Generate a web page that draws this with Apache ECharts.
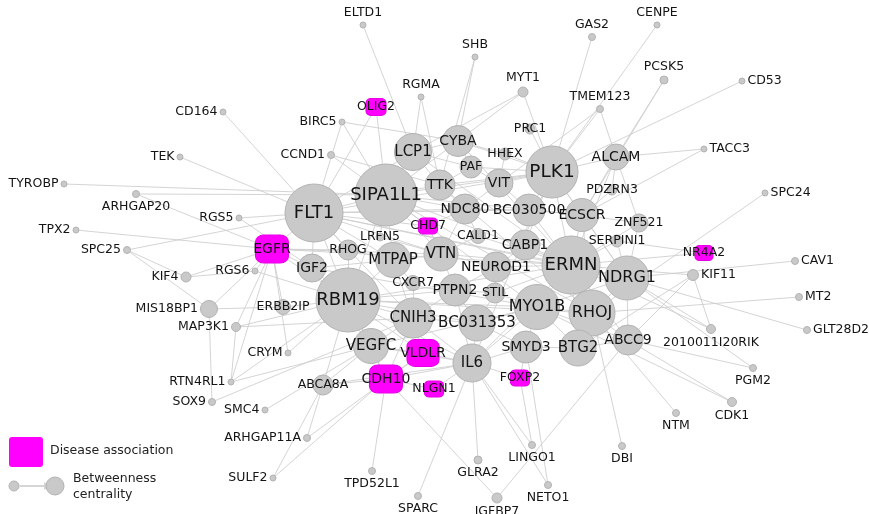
<!DOCTYPE html>
<html lang="en">
  <head>
    <meta charset="UTF-8" />
    <title>Gene network</title>
    <script src="https://cdn.jsdelivr.net/npm/echarts@6/dist/echarts.min.js"></script>
    <style>
      html, body { margin: 0; padding: 0; background: #fff; }
      #net { width: 869px; height: 514px; }
    </style>
  </head>
  <body>
    <div id="net"></div>
    <script>
      // node: [gene, x, y, betweenness (drawn as diameter)]
      const hubNodes = [
        ["FLT1", 314, 213, 58], ["SIPA1L1", 386, 195, 62], ["RBM19", 348, 300, 64],
        ["PLK1", 552, 172, 52], ["ERMN", 571, 265, 58], ["LCP1", 413, 152, 37],
        ["CYBA", 458, 141, 31], ["PAF", 471, 167, 22], ["TTK", 440, 185, 30],
        ["VIT", 499, 183, 28], ["NDC80", 465, 209, 30], ["BC030500", 529, 210, 32],
        ["ECSCR", 582, 215, 33], ["ALCAM", 616, 157, 26], ["PDZRN3", 612, 190, 10],
        ["ZNF521", 639, 223, 18], ["SERPINI1", 617, 241, 12], ["HHEX", 505, 154, 12],
        ["PRC1", 530, 129, 10], ["CABP1", 525, 245, 30], ["CALD1", 478, 236, 15],
        ["CHD7", 428, 226, 16], ["LRFN5", 380, 237, 8], ["RHOG", 348, 250, 20],
        ["MTPAP", 393, 260, 35], ["VTN", 441, 254, 34], ["IGF2", 312, 268, 28],
        ["EGFR", 272, 249, 28], ["NEUROD1", 496, 267, 30], ["PTPN2", 455, 290, 32],
        ["STIL", 495, 293, 20], ["CXCR7", 413, 283, 15], ["MYO1B", 537, 307, 45],
        ["NDRG1", 627, 278, 44], ["RHOJ", 592, 313, 46], ["ABCC9", 628, 340, 30],
        ["BTG2", 578, 348, 36], ["SMYD3", 526, 347, 32], ["BC031353", 477, 323, 36],
        ["CNIH3", 413, 318, 40], ["VEGFC", 371, 346, 35], ["IL6", 472, 363, 38],
        ["VLDLR", 423, 353, 27], ["CDH10", 386, 379, 28], ["NLGN1", 434, 389, 16],
        ["FOXP2", 520, 378, 16], ["ABCA8A", 323, 385, 20], ["ERBB2IP", 283, 307, 15],
        ["OLIG2", 376, 107, 17], ["NR4A2", 704, 253, 15]
      ];
      const outerNodes = [
        ["CD164", 223, 112, 6], ["TEK", 180, 157, 6], ["TYROBP", 64, 184, 6],
        ["ARHGAP20", 136, 194, 7], ["RGS5", 239, 218, 6], ["TPX2", 76, 230, 6],
        ["SPC25", 127, 250, 7], ["KIF4", 186, 277, 10], ["RGS6", 255, 271, 6],
        ["MIS18BP1", 209, 309, 17], ["MAP3K1", 236, 327, 9], ["CRYM", 288, 353, 6],
        ["RTN4RL1", 231, 382, 6], ["SOX9", 212, 402, 7], ["SMC4", 265, 410, 6],
        ["ARHGAP11A", 307, 438, 7], ["SULF2", 273, 478, 6], ["TPD52L1", 372, 471, 7],
        ["SPARC", 418, 496, 7], ["GLRA2", 478, 460, 8], ["IGFBP7", 497, 498, 10],
        ["LINGO1", 532, 445, 7], ["NETO1", 548, 485, 7], ["DBI", 622, 446, 7],
        ["NTM", 676, 413, 7], ["CDK1", 732, 402, 9], ["PGM2", 753, 368, 7],
        ["2010011I20RIK", 711, 329, 9], ["GLT28D2", 807, 330, 7], ["MT2", 799, 297, 7],
        ["CAV1", 795, 261, 7], ["KIF11", 693, 275, 11], ["SPC24", 765, 193, 6],
        ["TACC3", 704, 149, 6], ["CD53", 742, 81, 6], ["PCSK5", 664, 80, 8],
        ["CENPE", 657, 25, 6], ["GAS2", 592, 37, 7], ["TMEM123", 600, 109, 7],
        ["MYT1", 523, 92, 10], ["SHB", 475, 57, 6], ["RGMA", 421, 97, 6],
        ["ELTD1", 363, 25, 6], ["BIRC5", 342, 122, 6], ["CCND1", 331, 155, 7]
      ];
      const diseaseGenes = ["EGFR", "CDH10", "VLDLR", "OLIG2", "CHD7", "NLGN1", "FOXP2", "NR4A2"];

      const outerEdges = [
        ["CD164", "FLT1"], ["TEK", "FLT1"], ["TYROBP", "SIPA1L1"], ["ARHGAP20", "SIPA1L1"],
        ["ARHGAP20", "EGFR"], ["RGS5", "FLT1"], ["RGS5", "IGF2"], ["TPX2", "EGFR"],
        ["SPC25", "FLT1"], ["SPC25", "MIS18BP1"], ["SPC25", "KIF4"], ["KIF4", "RGS6"],
        ["KIF4", "EGFR"], ["RGS6", "EGFR"], ["RGS6", "RBM19"], ["MIS18BP1", "ERBB2IP"],
        ["MIS18BP1", "EGFR"], ["SOX9", "MIS18BP1"], ["MAP3K1", "RTN4RL1"], ["MAP3K1", "EGFR"],
        ["MAP3K1", "RBM19"], ["MAP3K1", "CNIH3"], ["CRYM", "RBM19"], ["CRYM", "EGFR"],
        ["RTN4RL1", "EGFR"], ["RTN4RL1", "VEGFC"], ["RTN4RL1", "RBM19"], ["SOX9", "CNIH3"],
        ["SMC4", "VEGFC"], ["ARHGAP11A", "ABCA8A"], ["ARHGAP11A", "VLDLR"], ["SULF2", "ABCA8A"],
        ["SULF2", "CDH10"], ["TPD52L1", "CDH10"], ["SPARC", "IL6"], ["GLRA2", "IL6"],
        ["IGFBP7", "CDH10"], ["IGFBP7", "ABCC9"], ["LINGO1", "IL6"], ["LINGO1", "FOXP2"],
        ["NETO1", "IL6"], ["NETO1", "SMYD3"], ["DBI", "RHOJ"], ["NTM", "RHOJ"],
        ["CDK1", "ABCC9"], ["CDK1", "MYO1B"], ["PGM2", "ABCC9"], ["PGM2", "NDRG1"],
        ["2010011I20RIK", "KIF11"], ["2010011I20RIK", "NDRG1"], ["2010011I20RIK", "ERMN"],
        ["GLT28D2", "NDRG1"], ["MT2", "RHOJ"], ["CAV1", "NDRG1"], ["KIF11", "ERMN"],
        ["KIF11", "ABCC9"], ["KIF11", "BTG2"], ["NR4A2", "ERMN"], ["NR4A2", "SERPINI1"], ["SPC24", "RHOJ"],
        ["TACC3", "ALCAM"], ["TACC3", "ECSCR"], ["CD53", "PLK1"], ["PCSK5", "ALCAM"],
        ["PCSK5", "ECSCR"], ["CENPE", "PLK1"], ["GAS2", "PLK1"], ["TMEM123", "PLK1"],
        ["TMEM123", "ALCAM"], ["TMEM123", "VIT"], ["MYT1", "PLK1"], ["MYT1", "CYBA"],
        ["MYT1", "LCP1"], ["SHB", "CYBA"], ["SHB", "TTK"], ["ELTD1", "LCP1"],
        ["RGMA", "LCP1"], ["RGMA", "TTK"], ["OLIG2", "FLT1"], ["OLIG2", "SIPA1L1"],
        ["BIRC5", "FLT1"], ["BIRC5", "SIPA1L1"], ["BIRC5", "CYBA"], ["CCND1", "SIPA1L1"],
        ["CCND1", "TTK"]
      ];
      const coreEdges = [
        ["FLT1", "SIPA1L1"], ["FLT1", "EGFR"], ["FLT1", "IGF2"], ["FLT1", "RHOG"], ["FLT1", "RBM19"],
        ["FLT1", "LCP1"], ["FLT1", "MTPAP"], ["FLT1", "VTN"], ["FLT1", "ERMN"], ["FLT1", "CHD7"],
        ["FLT1", "NDC80"], ["FLT1", "PLK1"], ["FLT1", "CNIH3"], ["FLT1", "NDRG1"], ["FLT1", "BC030500"],
        ["SIPA1L1", "LCP1"], ["SIPA1L1", "TTK"], ["SIPA1L1", "PLK1"], ["SIPA1L1", "VTN"],
        ["SIPA1L1", "MTPAP"], ["SIPA1L1", "RBM19"], ["SIPA1L1", "NDC80"], ["SIPA1L1", "ERMN"],
        ["SIPA1L1", "CYBA"], ["SIPA1L1", "CHD7"], ["SIPA1L1", "LRFN5"], ["SIPA1L1", "ECSCR"],
        ["SIPA1L1", "MYO1B"], ["SIPA1L1", "RHOJ"],
        ["RBM19", "IGF2"], ["RBM19", "CNIH3"], ["RBM19", "VEGFC"], ["RBM19", "MTPAP"], ["RBM19", "EGFR"],
        ["RBM19", "ERBB2IP"], ["RBM19", "CDH10"], ["RBM19", "VLDLR"], ["RBM19", "IL6"], ["RBM19", "ERMN"],
        ["RBM19", "BC031353"], ["RBM19", "PTPN2"], ["RBM19", "RHOG"], ["RBM19", "ABCA8A"], ["RBM19", "MYO1B"],
        ["RBM19", "RHOJ"],
        ["PLK1", "VIT"], ["PLK1", "ECSCR"], ["PLK1", "ALCAM"], ["PLK1", "BC030500"], ["PLK1", "ERMN"],
        ["PLK1", "CABP1"], ["PLK1", "PAF"], ["PLK1", "HHEX"], ["PLK1", "PRC1"], ["PLK1", "NDRG1"],
        ["PLK1", "TTK"], ["PLK1", "CYBA"], ["PLK1", "IL6"],
        ["ERMN", "ECSCR"], ["ERMN", "NDRG1"], ["ERMN", "RHOJ"], ["ERMN", "MYO1B"], ["ERMN", "CABP1"],
        ["ERMN", "BC030500"], ["ERMN", "NEUROD1"], ["ERMN", "BTG2"], ["ERMN", "ABCC9"], ["ERMN", "SERPINI1"],
        ["ERMN", "ZNF521"], ["ERMN", "IL6"], ["ERMN", "VTN"], ["ERMN", "STIL"], ["ERMN", "CALD1"],
        ["ERMN", "ALCAM"], ["ERMN", "EGFR"], ["ERMN", "LCP1"], ["ERMN", "CYBA"],
        ["IL6", "CNIH3"], ["IL6", "VLDLR"], ["IL6", "BC031353"], ["IL6", "SMYD3"], ["IL6", "FOXP2"],
        ["IL6", "NLGN1"], ["IL6", "MYO1B"], ["IL6", "PTPN2"], ["IL6", "CDH10"], ["IL6", "VEGFC"],
        ["IL6", "ABCA8A"],
        ["MYO1B", "RHOJ"], ["MYO1B", "BTG2"], ["MYO1B", "SMYD3"], ["MYO1B", "STIL"], ["MYO1B", "NDRG1"],
        ["MYO1B", "BC031353"], ["MYO1B", "ABCC9"], ["MYO1B", "IGF2"], ["MYO1B", "VEGFC"],
        ["RHOJ", "NDRG1"], ["RHOJ", "BTG2"], ["RHOJ", "ABCC9"], ["RHOJ", "ECSCR"], ["RHOJ", "TTK"],
        ["NDRG1", "ABCC9"], ["NDRG1", "ZNF521"], ["NDRG1", "SERPINI1"], ["NDRG1", "ECSCR"],
        ["CNIH3", "VLDLR"], ["CNIH3", "VEGFC"], ["CNIH3", "BC031353"], ["CNIH3", "CXCR7"], ["CNIH3", "MTPAP"],
        ["CNIH3", "PTPN2"], ["CNIH3", "CDH10"],
        ["VEGFC", "CDH10"], ["VEGFC", "VLDLR"], ["VEGFC", "ABCA8A"], ["VEGFC", "IGF2"],
        ["LCP1", "CYBA"], ["LCP1", "TTK"], ["LCP1", "PAF"], ["CYBA", "PAF"], ["CYBA", "HHEX"],
        ["TTK", "NDC80"], ["TTK", "PAF"], ["VIT", "PAF"], ["VIT", "NDC80"], ["VIT", "BC030500"], ["VIT", "HHEX"],
        ["NDC80", "BC030500"], ["NDC80", "CALD1"], ["NDC80", "VTN"], ["NDC80", "CHD7"],
        ["BC030500", "ECSCR"], ["BC030500", "CABP1"], ["ECSCR", "ALCAM"], ["ECSCR", "PDZRN3"], ["ECSCR", "ZNF521"],
        ["ALCAM", "PDZRN3"], ["ALCAM", "ZNF521"],
        ["VTN", "MTPAP"], ["VTN", "CALD1"], ["VTN", "NEUROD1"], ["VTN", "PTPN2"], ["VTN", "CHD7"], ["VTN", "LRFN5"],
        ["VTN", "EGFR"], ["MTPAP", "IGF2"], ["MTPAP", "RHOG"], ["MTPAP", "CXCR7"],
        ["PTPN2", "NEUROD1"], ["PTPN2", "STIL"], ["PTPN2", "BC031353"], ["NEUROD1", "CABP1"], ["NEUROD1", "STIL"],
        ["BC031353", "SMYD3"], ["BC031353", "STIL"], ["SMYD3", "BTG2"], ["SMYD3", "FOXP2"],
        ["EGFR", "IGF2"], ["EGFR", "ERBB2IP"], ["EGFR", "RHOG"], ["BTG2", "ABCC9"],
        ["CDH10", "VLDLR"], ["CDH10", "NLGN1"], ["ABCA8A", "CDH10"]
      ];

      // where each gene's label sits relative to its node (default: on the node)
      const labelSide = {
        left: ["CD164", "TEK", "TYROBP", "RGS5", "TPX2", "SPC25", "KIF4", "RGS6", "MIS18BP1", "MAP3K1",
               "CRYM", "RTN4RL1", "SOX9", "SMC4", "ARHGAP11A", "SULF2", "BIRC5", "CCND1"],
        right: ["CD53", "TACC3", "SPC24", "KIF11", "CAV1", "MT2", "GLT28D2"],
        top: ["ELTD1", "SHB", "RGMA", "MYT1", "GAS2", "CENPE", "PCSK5", "TMEM123"],
        bottom: ["ARHGAP20", "2010011I20RIK", "PGM2", "CDK1", "NTM", "DBI", "LINGO1", "NETO1",
                 "GLRA2", "IGFBP7", "SPARC", "TPD52L1"]
      };

      const sideOf = {};
      Object.keys(labelSide).forEach(function (k) {
        labelSide[k].forEach(function (n) { sideOf[n] = k; });
      });

      function fontFor(d) {
        if (d >= 55) return 18;
        if (d >= 50) return 18.5;
        if (d >= 42) return 16;
        if (d >= 34) return 15;
        if (d >= 26) return 14;
        return 12.5;
      }

      const graphData = hubNodes.concat(outerNodes).map(function (n) {
        const name = n[0], d = n[3];
        const sick = diseaseGenes.indexOf(name) >= 0;
        const side = sideOf[name];
        const label = {
          show: true,
          fontSize: fontFor(d),
          color: "#141414"
        };
        if (side) {
          label.position = side;
          label.distance = 2;
        } else {
          label.position = ["50%", "50%"];
          label.align = "center";
          label.verticalAlign = "middle";
        }
        return {
          name: name,
          value: [n[1], n[2]],
          symbol: sick ? "roundRect" : "circle",
          symbolSize: sick ? [Math.round(d * 1.17), d] : d,
          itemStyle: sick
            ? { color: "#ff00ff", borderColor: "#e600e6", borderWidth: 1 }
            : { color: "#c9c9c9", borderColor: "#b3b3b3", borderWidth: 1 },
          label: label
        };
      });

      const graphLinks = outerEdges.concat(coreEdges).map(function (e) {
        return { source: e[0], target: e[1] };
      });

      const chart = echarts.init(document.getElementById("net"), null, { renderer: "canvas" });

      chart.setOption({
        animation: false,
        backgroundColor: "#ffffff",
        textStyle: { fontFamily: "DejaVu Sans" },
        grid: { left: 0, right: 0, top: 0, bottom: 0 },
        xAxis: { type: "value", min: 0, max: 869, show: false },
        yAxis: { type: "value", min: 0, max: 514, inverse: true, show: false },
        series: [
          {
            type: "graph",
            coordinateSystem: "cartesian2d",
            data: graphData,
            links: graphLinks,
            edgeSymbol: ["none", "none"],
            lineStyle: { color: "#cccccc", width: 1, opacity: 0.85, curveness: 0 },
            label: { fontFamily: "DejaVu Sans" },
            emphasis: { disabled: true }
          }
        ],
        graphic: [
          { type: "rect", left: 9, top: 437, shape: { width: 34, height: 30, r: 3 },
            style: { fill: "#ff00ff" } },
          { type: "text", left: 50, top: 444,
            style: { text: "Disease association", fontSize: 12.5, fill: "#222", fontFamily: "DejaVu Sans" } },
          { type: "circle", shape: { cx: 14, cy: 486, r: 5 },
            style: { fill: "#c9c9c9", stroke: "#b3b3b3" } },
          { type: "line", shape: { x1: 20, y1: 486, x2: 44, y2: 486 },
            style: { stroke: "#d5d5d5", lineWidth: 2 } },
          { type: "polygon", shape: { points: [[44, 482], [50, 486], [44, 490]] },
            style: { fill: "#d5d5d5" } },
          { type: "circle", shape: { cx: 55, cy: 486, r: 9 },
            style: { fill: "#c9c9c9", stroke: "#b3b3b3" } },
          { type: "text", left: 73, top: 471,
            style: { text: "Betweenness\ncentrality", fontSize: 12.5, lineHeight: 16, fill: "#222", fontFamily: "DejaVu Sans" } }
        ]
      });
    </script>
  </body>
</html>
